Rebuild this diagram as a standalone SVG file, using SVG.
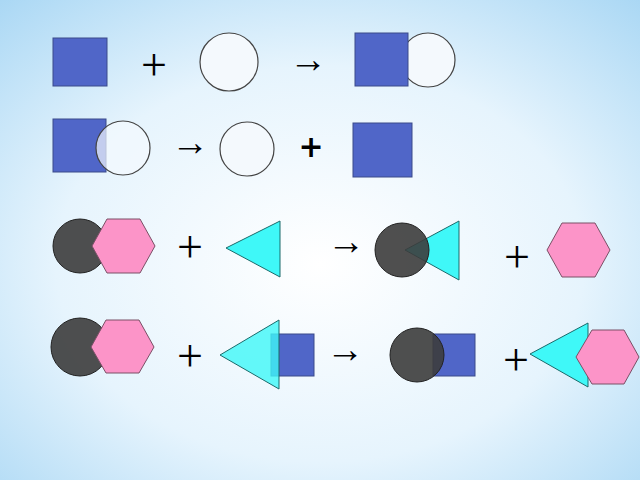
<svg xmlns="http://www.w3.org/2000/svg" width="640" height="480" viewBox="0 0 640 480">
<defs>
<radialGradient id="bg" cx="0.5" cy="0.55" r="0.75">
<stop offset="0" stop-color="#ffffff"/><stop offset="0.55" stop-color="#e6f4fd"/><stop offset="1" stop-color="#a9d7f4"/>
</radialGradient>
</defs>
<style>
.sq{fill:#5066c8;stroke:#3a4a8a;stroke-width:1}
.wc{fill:#f4f9fd;stroke:#444;stroke-width:1.2}
.dc{fill:#3c3c3c;fill-opacity:0.9;stroke:#222;stroke-width:1}
.hx{fill:#fc94c8;stroke:#7a5066;stroke-width:1}
.tr{fill:#3ff8f8;stroke:#1a6a6a;stroke-width:1}
.op{font-family:"Liberation Serif",serif;font-size:46px;fill:#000;text-anchor:middle}
.ar{font-family:"Liberation Serif",serif;font-size:38px;fill:#000;text-anchor:middle}
</style>
<rect width="640" height="480" fill="url(#bg)"/>
<g id="row1">
<rect class="sq" x="53" y="38" width="54" height="48"/>
<text class="op" x="154" y="80">+</text>
<circle class="wc" cx="229" cy="62" r="29"/>
<text class="ar" x="308" y="72">→</text>
<circle class="wc" cx="428" cy="60" r="27"/>
<rect class="sq" x="355" y="33" width="53" height="53"/>
</g>
<g id="row2">
<rect class="sq" x="53" y="119" width="53" height="53"/>
<circle class="wc" cx="123" cy="148" r="27" fill-opacity="0.7"/>
<text class="ar" x="190" y="155">→</text>
<circle class="wc" cx="247" cy="149" r="27"/>
<text x="311" y="157" font-family="DejaVu Sans,sans-serif" font-weight="bold" font-size="30" text-anchor="middle">+</text>
<rect class="sq" x="353" y="123" width="59" height="54"/>
</g>
<g id="row3">
<circle class="dc" cx="80" cy="246" r="27"/>
<polygon class="hx" points="92,246 107,219 140,219 155,246 140,273 107,273"/>
<text class="op" x="190" y="262">+</text>
<polygon class="tr" points="226,248 280,221 280,277"/>
<text class="ar" x="346" y="254">→</text>
<polygon class="tr" points="405,250 459,221 459,280"/>
<circle class="dc" cx="402" cy="250" r="27" fill-opacity="0.75"/>
<text class="op" x="517" y="272">+</text>
<polygon class="hx" points="547,250 562,223 595,223 610,250 595,277 562,277"/>
</g>
<g id="row4">
<circle class="dc" cx="80" cy="347" r="29"/>
<polygon class="hx" points="91,347 106,320 139,320 154,347 139,373 106,373"/>
<text class="op" x="190" y="371">+</text>
<rect class="sq" x="271" y="334" width="43" height="42"/>
<polygon class="tr" points="220,355 279,320 279,389" fill-opacity="0.8"/>
<text class="ar" x="345" y="362">→</text>
<rect class="sq" x="433" y="334" width="42" height="42"/>
<circle class="dc" cx="417" cy="355" r="27" fill-opacity="0.85"/>
<text class="op" x="516" y="375">+</text>
<polygon class="tr" points="530,354 588,323 588,387"/>
<polygon class="hx" points="576,357 592,330 624,330 639,357 624,384 592,384"/>
</g>
</svg>
